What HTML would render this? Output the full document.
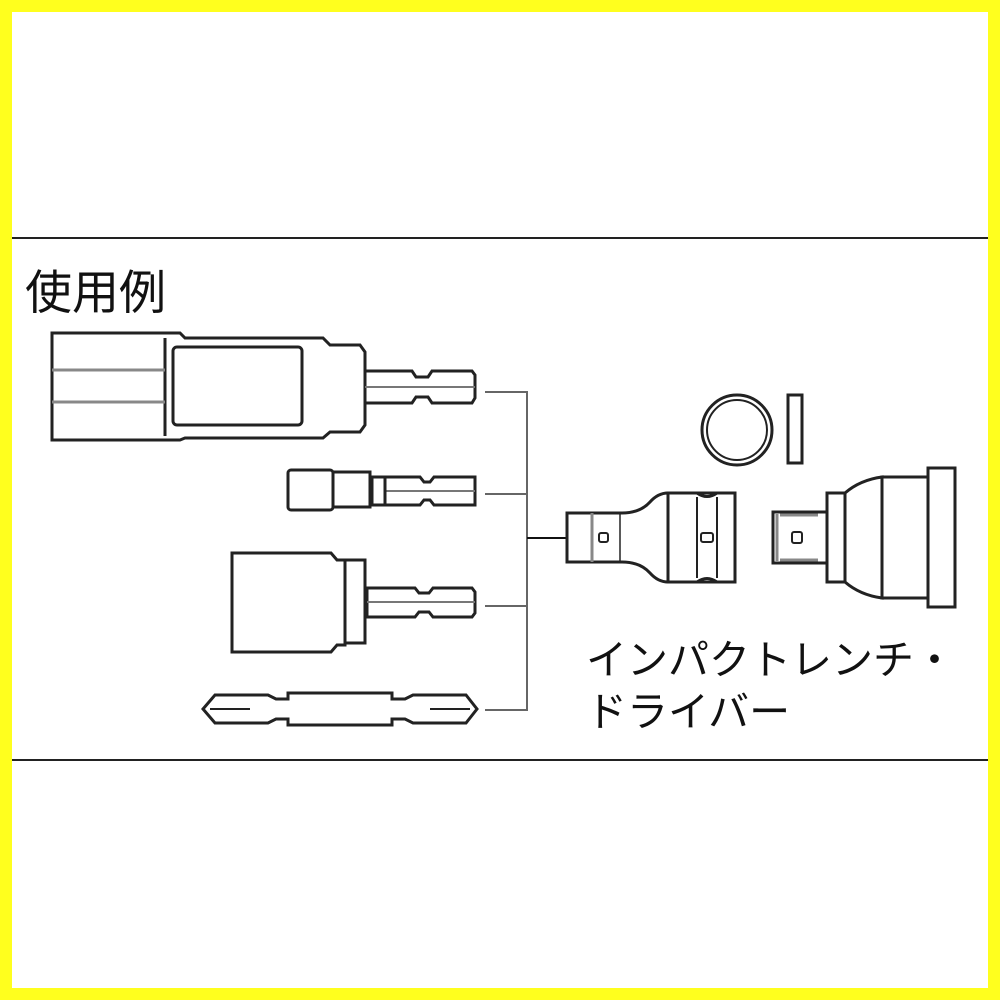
<!DOCTYPE html>
<html><head><meta charset="utf-8"><style>
body{margin:0;width:1000px;height:1000px;background:#ffff1e;overflow:hidden}
#w{position:absolute;left:12px;top:12px;width:976px;height:976px;background:#fff}
svg{position:absolute;left:0;top:0}
.t{position:absolute;font-family:"Liberation Sans","Noto Sans CJK JP",sans-serif;color:#111;white-space:nowrap}
</style></head><body>
<div id="w"></div>
<svg width="1000" height="1000" viewBox="0 0 1000 1000" fill="#fff" stroke="#222" stroke-width="3">
<line x1="12" y1="238" x2="988" y2="238" stroke-width="2"/>
<line x1="12" y1="760" x2="988" y2="760" stroke-width="2"/>
<g stroke="#666" stroke-width="2" fill="none">
<path d="M485 392H527V710H485M485 494H527M485 606H527"/>
</g>
<line x1="527" y1="538" x2="567" y2="538" stroke="#111" stroke-width="2"/>
<path d="M52 333H180L185 338H323L330 345H360L365 352V425L360 432H330L323 438H185L180 440H52Z"/>
<line x1="165" y1="338" x2="165" y2="436" stroke-width="3"/>
<rect x="173" y="347" width="129" height="78" rx="4"/>
<line x1="52" y1="370" x2="165" y2="370" stroke="#888"/>
<line x1="52" y1="402" x2="165" y2="402" stroke="#888"/>
<path d="M365 371H412L416 377H428L432 371H472L475 375V398L472 403H432L428 397H416L412 403H365Z"/>
<line x1="365" y1="387" x2="475" y2="387" stroke="#777" stroke-width="2"/>
<rect x="288" y="470" width="45" height="40" rx="3"/>
<rect x="333" y="472" width="37" height="35"/>
<path d="M372 477H420L424 482H430L434 477H475V505H434L430 500H424L420 505H372Z"/>
<line x1="385" y1="491" x2="475" y2="491" stroke="#777" stroke-width="2"/>
<line x1="385" y1="477" x2="385" y2="505"/>
<path d="M232 553H331L337 560H345V645H337L331 652H232Z"/>
<rect x="345" y="560" width="20" height="83"/>
<path d="M367 588H415L419 593H429L433 588H472L475 592V613L472 617H433L429 612H419L415 617H367Z"/>
<line x1="367" y1="602" x2="475" y2="602" stroke="#777" stroke-width="2"/>
<path d="M203 709L215 695H268L276 699H288V693H392V699H405L413 695H466L477 709L466 723H413L405 719H392V725H288V719H276L268 723H215Z"/>
<line x1="210" y1="709" x2="250" y2="709" stroke-width="2"/>
<line x1="430" y1="709" x2="470" y2="709" stroke-width="2"/>
<circle cx="737" cy="430" r="35"/>
<circle cx="737" cy="430" r="30" stroke-width="2"/>
<rect x="788" y="395" width="14" height="68"/>
<path d="M567 513H622Q640 513 650 502Q658 493 668 493V582Q658 582 650 573Q640 562 622 562H567Z"/>
<line x1="592" y1="513" x2="592" y2="562" stroke="#888" stroke-width="3"/>
<line x1="620" y1="513" x2="620" y2="562" stroke-width="1.5"/>
<rect x="599" y="533" width="9" height="9" rx="2" stroke-width="2"/>
<path d="M668 493H735V582H668Z"/>
<path d="M697 493Q707 500 717 493M697 582Q707 575 717 582" fill="none"/>
<line x1="697" y1="497" x2="697" y2="578" stroke-width="2"/>
<line x1="717" y1="497" x2="717" y2="578" stroke-width="2"/>
<rect x="701" y="533" width="12" height="9" rx="2" stroke-width="2"/>
<rect x="773" y="512" width="54" height="51"/>
<line x1="777" y1="514" x2="777" y2="561" stroke="#888" stroke-width="3"/>
<line x1="780" y1="515" x2="818" y2="515" stroke="#888" stroke-width="3"/>
<line x1="780" y1="560" x2="818" y2="560" stroke="#888" stroke-width="3"/>
<rect x="792" y="532" width="10" height="11" rx="2" stroke-width="2"/>
<rect x="827" y="493" width="18" height="89"/>
<path d="M845 493Q860 480 882 477V598Q860 595 845 582Z"/>
<rect x="882" y="477" width="46" height="121"/>
<rect x="928" y="468" width="27" height="139"/>
</svg>
<div class="t" style="left:25px;top:254px;font-size:47px">使用例</div>
<div class="t" style="left:586px;top:634px;font-size:41px;line-height:52px">インパクトレンチ・<br>ドライバー</div>
</body></html>
